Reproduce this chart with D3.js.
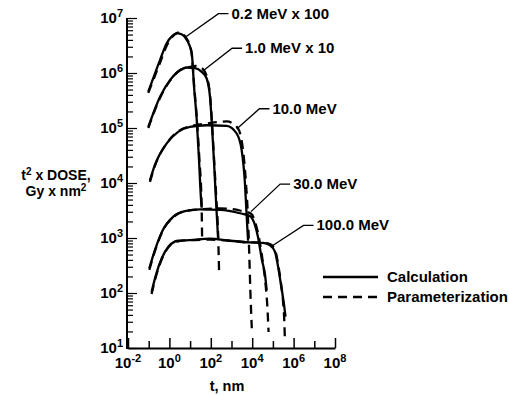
<!DOCTYPE html>
<html>
<head>
<meta charset="utf-8">
<script src="https://cdn.jsdelivr.net/npm/d3@7"></script>
<style>
  body { margin: 0; background: #fff; }
  svg { display: block; }
  text { font-family: "Liberation Sans", Arial, sans-serif; font-weight: bold; fill: #000; }
  .curve { fill: none; stroke: #000; stroke-width: 2.3; }
  .dash { stroke-dasharray: 9, 6; }
  .domain { stroke: #000; stroke-width: 2; }
  .tick line { stroke: #000; stroke-width: 1.5; }
</style>
</head>
<body>
<div id="chart"></div>
<script>
// values are log10(t / nm) and log10(t^2 x dose / Gy nm^2)
const energies = ["0.2 MeV x 100", "1.0 MeV x 10", "10.0 MeV", "30.0 MeV", "100.0 MeV"];

const calc02 = [[-1.02, 5.66], [-0.45, 6.24], [-0.13, 6.54], [0.13, 6.67], [0.38, 6.72], [0.61, 6.70],
  [0.84, 6.60], [1.08, 6.36], [1.19, 5.75], [1.32, 5.15], [1.43, 4.42], [1.53, 3.69], [1.56, 3.55]];
const param02 = [[-1.02, 5.64], [-0.5, 6.14], [-0.1, 6.52], [0.25, 6.70], [0.5, 6.74], [0.75, 6.67],
  [1.05, 6.42], [1.2, 5.75], [1.33, 5.15], [1.45, 4.42], [1.55, 3.69], [1.58, 3.0]];

const calc1 = [[-1.02, 5.02], [-0.45, 5.57], [0.03, 5.87], [0.51, 6.05], [0.84, 6.10], [1.24, 6.09],
  [1.56, 6.02], [1.80, 5.90], [1.96, 5.57], [2.04, 5.15], [2.15, 4.42], [2.25, 3.69], [2.35, 3.0]];
const param1 = [[-1.02, 5.0], [-0.45, 5.55], [0.03, 5.86], [0.51, 6.05], [0.9, 6.10], [1.3, 6.13],
  [1.6, 6.08], [1.82, 5.92], [1.97, 5.57], [2.05, 5.15], [2.16, 4.42], [2.27, 3.69], [2.36, 3.0], [2.40, 2.38]];

const calc10 = [[-0.94, 4.05], [-0.70, 4.33], [-0.13, 4.72], [0.42, 4.93], [0.99, 5.02], [1.80, 5.05],
  [2.77, 5.04], [3.25, 4.90], [3.49, 4.60], [3.65, 3.99], [3.73, 3.42], [3.80, 2.95]];
const param10 = [[-0.94, 4.02], [-0.70, 4.31], [-0.13, 4.72], [0.42, 4.94], [0.99, 5.03], [1.80, 5.08],
  [2.77, 5.12], [3.3, 5.0], [3.55, 4.62], [3.70, 3.99], [3.79, 3.42], [3.85, 2.8], [3.91, 2.05], [3.98, 1.36]];

const calc30 = [[-0.97, 2.45], [-0.70, 2.78], [-0.31, 3.15], [0.19, 3.39], [0.75, 3.49], [1.48, 3.52],
  [2.44, 3.51], [3.41, 3.45], [3.89, 3.40], [4.13, 3.24], [4.28, 3.02], [4.47, 2.60], [4.62, 2.33], [4.70, 2.05]];
const param30 = [[-0.97, 2.42], [-0.70, 2.76], [-0.31, 3.14], [0.19, 3.38], [0.75, 3.49], [1.48, 3.52],
  [2.44, 3.54], [3.41, 3.50], [3.95, 3.44], [4.18, 3.24], [4.33, 3.0], [4.52, 2.55], [4.66, 2.1], [4.74, 1.7], [4.79, 1.29]];

const calc100 = [[-0.86, 2.02], [-0.65, 2.33], [-0.36, 2.64], [-0.05, 2.84], [0.42, 2.95], [0.99, 2.96],
  [1.96, 2.99], [2.93, 2.95], [3.89, 2.92], [4.52, 2.91], [4.86, 2.87], [5.10, 2.75], [5.25, 2.48],
  [5.39, 2.15], [5.54, 1.78], [5.61, 1.57]];
const param100 = [[-0.86, 1.98], [-0.65, 2.30], [-0.36, 2.62], [-0.05, 2.83], [0.42, 2.94], [0.99, 2.96],
  [1.96, 2.97], [2.93, 2.95], [3.89, 2.92], [4.52, 2.92], [4.9, 2.88], [5.13, 2.75], [5.27, 2.48],
  [5.40, 2.15], [5.50, 1.8], [5.55, 1.5], [5.58, 1.13]];

const calcSeries = [calc02, calc1, calc10, calc30, calc100];
const paramSeries = [param02, param1, param10, param30, param100];

// leader line: point on curve (log t, log dose) -> label anchor (log t, log dose)
const leaderFrom = [[0.73, 6.64], [1.60, 6.03], [3.25, 4.98], [3.94, 3.48], [4.90, 2.84]];
const leaderTo = [[2.37, 7.08], [3.03, 6.45], [4.35, 5.35], [5.35, 3.98], [6.48, 3.23]];
const legendLabels = ["Calculation", "Parameterization"];

const xDecades = d3.range(-2, 9);
const xLabelDecades = [-2, 0, 2, 4, 6, 8];
const yDecades = d3.range(1, 8);

const width = 509, height = 395;
const svg = d3.select("#chart").append("svg")
  .attr("width", width)
  .attr("height", height);

const x = d3.scaleLog().domain([1e-2, 1e8]).range([128, 335]);
const y = d3.scaleLog().domain([1e1, 1e7]).range([348, 18]);

const line = d3.line()
  .x(d => x(10 ** d[0]))
  .y(d => y(10 ** d[1]))
  .curve(d3.curveMonotoneX);

// axes
const xAxis = svg.append("g")
  .attr("transform", `translate(0,${y(10)})`)
  .call(d3.axisBottom(x).tickValues(xDecades.map(e => 10 ** e)).tickSizeOuter(0).tickFormat(""));
xAxis.selectAll(".tick line")
  .attr("y2", (d, i) => xDecades[i] % 2 === 0 ? -10 : -7);

const yAxis = svg.append("g")
  .attr("transform", `translate(${x(1e-2) - 1},0)`)
  .call(d3.axisRight(y).ticks(60).tickSizeOuter(0).tickFormat(""));
yAxis.selectAll(".tick line")
  .attr("x2", d => Math.abs(Math.log10(d) - Math.round(Math.log10(d))) < 1e-6 ? 10 : 6)
  .style("stroke-width", 1.2);
yAxis.select(".domain").attr("d", `M0,${y(1e7)}V${y(10) + 1}`);

// tick labels with superscript exponents
const xLab = svg.append("g").selectAll("text")
  .data(xLabelDecades)
  .join("text")
  .attr("x", d => x(10 ** d))
  .attr("y", 368)
  .attr("text-anchor", "middle")
  .style("font-size", "15px");
xLab.append("tspan").text("10");
xLab.append("tspan").attr("dy", -6).style("font-size", "11px").text(d => d);

const yLab = svg.append("g").selectAll("text")
  .data(yDecades)
  .join("text")
  .attr("x", 123)
  .attr("y", d => y(10 ** d) + 5)
  .attr("text-anchor", "end")
  .style("font-size", "15px");
yLab.append("tspan").text("10");
yLab.append("tspan").attr("dy", -6).style("font-size", "11px").text(d => d);

// axis titles
const yTitle = svg.append("text")
  .attr("text-anchor", "middle")
  .style("font-size", "14px");
yTitle.append("tspan").attr("x", 56).attr("y", 180).text("t");
yTitle.append("tspan").attr("dy", -5).style("font-size", "10px").text("2");
yTitle.append("tspan").attr("dy", 5).text(" x DOSE,");
const yTitle2 = svg.append("text")
  .attr("text-anchor", "middle")
  .style("font-size", "14px");
yTitle2.append("tspan").attr("x", 56).attr("y", 196).text("Gy x nm");
yTitle2.append("tspan").attr("dy", -5).style("font-size", "10px").text("2");

svg.append("text")
  .attr("x", 227)
  .attr("y", 391)
  .attr("text-anchor", "middle")
  .style("font-size", "14.5px")
  .text("t, nm");

// curves
svg.append("g").selectAll("path")
  .data(paramSeries)
  .join("path")
  .attr("class", "curve dash")
  .attr("d", line);

svg.append("g").selectAll("path")
  .data(calcSeries)
  .join("path")
  .attr("class", "curve")
  .attr("d", line);

// leader lines and energy labels
const lead = svg.append("g").selectAll("g")
  .data(energies)
  .join("g");
lead.append("path")
  .attr("fill", "none")
  .attr("stroke", "#000")
  .attr("stroke-width", 1.3)
  .attr("d", (d, i) => {
    const a = leaderFrom[i], b = leaderTo[i];
    const x0 = x(10 ** a[0]), y0 = y(10 ** a[1]);
    const x1 = x(10 ** b[0]), y1 = y(10 ** b[1]);
    return `M${x0},${y0}L${x1},${y1}H${x1 + 10}`;
  });
lead.append("text")
  .attr("x", (d, i) => x(10 ** leaderTo[i][0]) + 13)
  .attr("y", (d, i) => y(10 ** leaderTo[i][1]) + 5)
  .style("font-size", "15px")
  .text(d => d);

// legend
const legend = svg.append("g").selectAll("g")
  .data(legendLabels)
  .join("g")
  .attr("transform", (d, i) => `translate(323,${277 + i * 20})`);
legend.append("line")
  .attr("class", (d, i) => i ? "curve dash" : "curve")
  .attr("x1", 0).attr("x2", 55)
  .attr("y1", 0).attr("y2", 0);
legend.append("text")
  .attr("x", 64)
  .attr("y", 5)
  .style("font-size", "15px")
  .text(d => d);
</script>
</body>
</html>
